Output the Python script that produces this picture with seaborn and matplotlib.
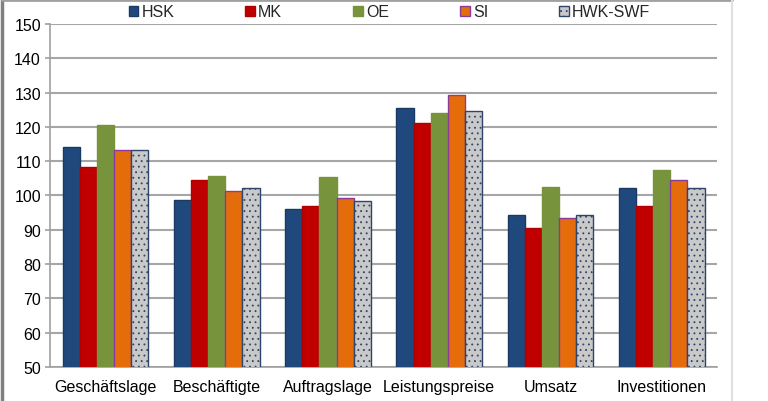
import matplotlib
matplotlib.use("Agg")
import matplotlib.pyplot as plt
from matplotlib.lines import Line2D
from matplotlib.patches import Patch
import pandas as pd
import seaborn as sns

# ---------------------------------------------------------------------------
# Data
# ---------------------------------------------------------------------------

categories = ["Geschäftslage", "Beschäftigte", "Auftragslage",
              "Leistungspreise", "Umsatz", "Investitionen"]
series = ["HSK", "MK", "OE", "SI", "HWK-SWF"]

hsk = [114.0, 98.7, 95.9, 125.5, 94.3, 102.1]
mk = [108.3, 104.5, 96.9, 121.1, 90.5, 96.8]
oe = [120.5, 105.7, 105.3, 124.0, 102.5, 107.4]
si = [113.2, 101.2, 99.2, 129.2, 93.4, 104.5]
hwk_swf = [113.2, 102.1, 98.4, 124.6, 94.3, 102.1]

y_ticks = [50, 60, 70, 80, 90, 100, 110, 120, 130, 140, 150]

face_colors = ["#1F497D", "#C00000", "#77933C", "#E46C0A", "#C9C9C9"]
edge_colors = ["#1A3A63", "#B00000", "#77933C", "#8A3A9A", "#2E4469"]

# long table for seaborn
values = {"HSK": hsk, "MK": mk, "OE": oe, "SI": si, "HWK-SWF": hwk_swf}
rows = []
for name in series:
    for cat, val in zip(categories, values[name]):
        rows.append({"Kategorie": cat, "Region": name, "Wert": val})
df = pd.DataFrame(rows)

# ---------------------------------------------------------------------------
# Figure
# ---------------------------------------------------------------------------

sns.set_style("white")
plt.rcParams["font.family"] = ["Liberation Sans", "DejaVu Sans"]
plt.rcParams["hatch.linewidth"] = 0.6

fig = plt.figure(figsize=(7.68, 4.02), dpi=100)
ax = fig.add_axes([0.065, 0.085, 0.869, 0.853])

sns.barplot(data=df, x="Kategorie", y="Wert", hue="Region",
            hue_order=series, order=categories, palette=face_colors,
            saturation=1, width=0.77, gap=0, ax=ax, legend=False, zorder=3)

# per-series edge / hatch styling
for i, container in enumerate(ax.containers):
    for bar in container:
        bar.set_edgecolor(edge_colors[i])
        bar.set_linewidth(1.0)
        if series[i] == "HWK-SWF":
            bar.set_hatch("...")

ax.set_ylim(50, 150)
ax.set_xlim(-0.5, len(categories) - 0.5)
ax.set_yticks(y_ticks)
ax.set_xlabel("")
ax.set_ylabel("")

# gridlines and axes lines
ax.yaxis.grid(True, color="#A6A6A6", linewidth=1.5, zorder=0)
ax.set_axisbelow(True)
for side in ["top", "right"]:
    ax.spines[side].set_visible(False)
for side in ["left", "bottom"]:
    ax.spines[side].set_color("#A0A0A0")
    ax.spines[side].set_linewidth(1.2)

# category labels centred, tick marks between groups
ax.set_xticks([i - 0.5 for i in range(len(categories) + 1)], minor=True)
ax.tick_params(axis="x", which="major", length=0, pad=9, labelsize=11.5,
               labelcolor="#000000")
ax.tick_params(axis="x", which="minor", length=4, width=1.2,
               color="#A0A0A0", direction="out")
ax.tick_params(axis="y", length=3.5, width=1.2, color="#A0A0A0",
               direction="out", pad=3, labelsize=11.5, labelcolor="#000000")
ax.tick_params(axis="both", left=True, bottom=True)

# legend along the top
handles = []
for i, name in enumerate(series):
    handles.append(Patch(facecolor=face_colors[i], edgecolor=edge_colors[i],
                         hatch="..." if name == "HWK-SWF" else None,
                         label=name))
fig.legend(handles=handles, loc="center", bbox_to_anchor=(0.507, 0.968),
           ncol=5, frameon=False, fontsize=11.5, handlelength=0.6,
           handleheight=0.6, handletextpad=0.2, columnspacing=4.45,
           borderaxespad=0)

# outer chart frame
fig.add_artist(Line2D([0.003, 0.003], [0, 1], color="#808080", lw=2.5))
fig.add_artist(Line2D([0.003, 0.953], [0.998, 0.998], color="#A0A0A0", lw=2))
fig.add_artist(Line2D([0.953, 0.953], [0, 1], color="#E0E0E0", lw=1.5))

fig.savefig("out.png", dpi=100)
plt.close(fig)
